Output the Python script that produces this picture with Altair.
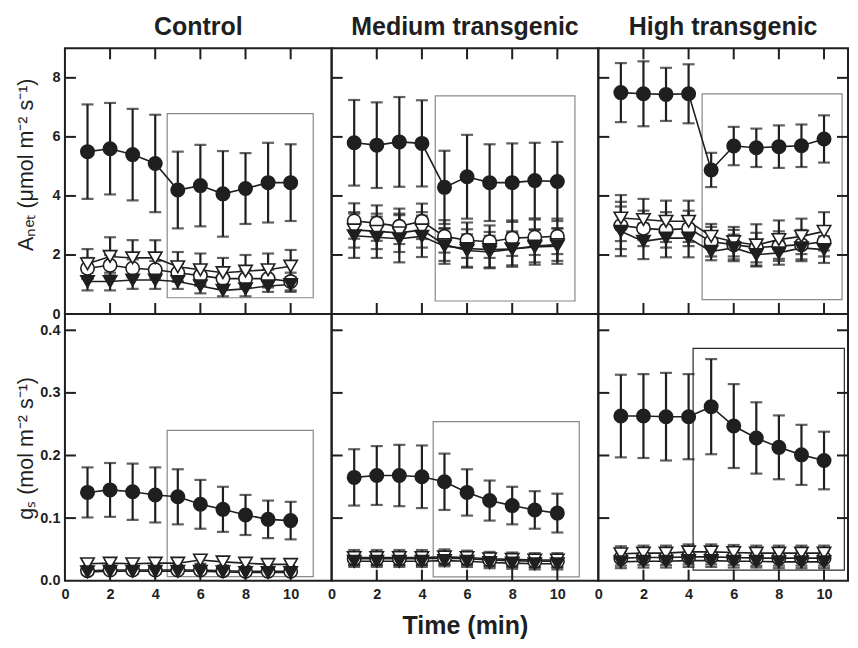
import altair as alt
import pandas as pd

time = [1, 2, 3, 4, 5, 6, 7, 8, 9, 10]

# ---------------- A_net (top row) ----------------
ctl_a_fc = [5.50, 5.60, 5.40, 5.10, 4.20, 4.35, 4.07, 4.25, 4.45, 4.45]
ctl_a_fc_err = [1.60, 1.55, 1.55, 1.65, 1.30, 1.38, 1.45, 1.20, 1.35, 1.30]
ctl_a_oc = [1.55, 1.65, 1.55, 1.50, 1.40, 1.30, 1.20, 1.20, 1.20, 1.10]
ctl_a_oc_err = [0.35, 0.35, 0.30, 0.30, 0.30, 0.30, 0.30, 0.30, 0.30, 0.30]
ctl_a_ot = [1.70, 1.95, 1.90, 1.90, 1.60, 1.50, 1.40, 1.45, 1.50, 1.62]
ctl_a_ot_err = [0.50, 0.65, 0.60, 0.60, 0.50, 0.55, 0.50, 0.55, 0.55, 0.55]
ctl_a_ft = [1.10, 1.10, 1.15, 1.15, 1.10, 0.95, 0.80, 0.85, 0.95, 1.00]
ctl_a_ft_err = [0.30, 0.30, 0.30, 0.30, 0.25, 0.25, 0.20, 0.25, 0.20, 0.25]

med_a_fc = [5.80, 5.72, 5.83, 5.78, 4.29, 4.65, 4.45, 4.45, 4.52, 4.49]
med_a_fc_err = [1.45, 1.45, 1.52, 1.46, 1.24, 1.42, 1.30, 1.33, 1.28, 1.34]
med_a_oc = [3.15, 3.08, 2.97, 3.14, 2.63, 2.50, 2.45, 2.57, 2.60, 2.63]
med_a_oc_err = [0.60, 0.60, 0.60, 0.60, 0.55, 0.60, 0.55, 0.60, 0.60, 0.60]
med_a_ot = [2.85, 2.80, 2.75, 2.85, 2.35, 2.15, 2.10, 2.20, 2.30, 2.35]
med_a_ot_err = [0.60, 0.60, 0.65, 0.60, 0.55, 0.55, 0.55, 0.55, 0.55, 0.55]
med_a_ft = [2.65, 2.60, 2.55, 2.63, 2.30, 2.22, 2.18, 2.20, 2.27, 2.30]
med_a_ft_err = [0.75, 0.70, 0.80, 0.70, 0.60, 0.65, 0.60, 0.60, 0.60, 0.60]

high_a_fc = [7.50, 7.46, 7.44, 7.46, 4.88, 5.69, 5.63, 5.67, 5.70, 5.93]
high_a_fc_err = [1.00, 1.10, 0.90, 1.00, 0.58, 0.65, 0.65, 0.72, 0.72, 0.80]
high_a_oc = [3.00, 2.90, 2.85, 2.90, 2.45, 2.35, 2.25, 2.30, 2.35, 2.45]
high_a_oc_err = [0.80, 0.60, 0.60, 0.60, 0.50, 0.50, 0.50, 0.50, 0.50, 0.50]
high_a_ot = [3.25, 3.20, 3.14, 3.14, 2.63, 2.45, 2.34, 2.52, 2.63, 2.80]
high_a_ot_err = [0.78, 0.70, 0.70, 0.70, 0.42, 0.50, 0.70, 0.65, 0.60, 0.65]
high_a_ft = [2.80, 2.46, 2.57, 2.57, 2.12, 2.24, 2.01, 2.07, 2.24, 2.18]
high_a_ft_err = [0.84, 0.60, 0.65, 0.65, 0.30, 0.45, 0.40, 0.40, 0.45, 0.45]

# ---------------- g_s (bottom row) ----------------
ctl_g_fc = [0.141, 0.145, 0.142, 0.137, 0.134, 0.122, 0.114, 0.105, 0.098, 0.096]
ctl_g_fc_err = [0.040, 0.043, 0.045, 0.044, 0.044, 0.039, 0.036, 0.032, 0.030, 0.030]
ctl_g_oc = [0.016, 0.017, 0.017, 0.017, 0.017, 0.017, 0.016, 0.015, 0.015, 0.015]
ctl_g_oc_err = [0.005, 0.005, 0.005, 0.005, 0.005, 0.005, 0.005, 0.005, 0.005, 0.005]
ctl_g_ot = [0.027, 0.028, 0.027, 0.028, 0.028, 0.033, 0.030, 0.028, 0.026, 0.026]
ctl_g_ot_err = [0.006, 0.006, 0.006, 0.006, 0.006, 0.006, 0.006, 0.006, 0.006, 0.006]
ctl_g_ft = [0.014, 0.015, 0.015, 0.015, 0.015, 0.015, 0.014, 0.013, 0.013, 0.013]
ctl_g_ft_err = [0.004, 0.004, 0.004, 0.004, 0.004, 0.004, 0.004, 0.004, 0.004, 0.004]

med_g_fc = [0.165, 0.168, 0.168, 0.166, 0.158, 0.141, 0.128, 0.120, 0.113, 0.108]
med_g_fc_err = [0.045, 0.047, 0.049, 0.050, 0.045, 0.037, 0.032, 0.030, 0.030, 0.031]
med_g_oc = [0.035, 0.035, 0.035, 0.035, 0.036, 0.035, 0.033, 0.032, 0.031, 0.031]
med_g_oc_err = [0.010, 0.010, 0.010, 0.010, 0.010, 0.010, 0.010, 0.010, 0.010, 0.010]
med_g_ot = [0.037, 0.037, 0.037, 0.037, 0.038, 0.037, 0.035, 0.034, 0.033, 0.033]
med_g_ot_err = [0.012, 0.012, 0.012, 0.012, 0.012, 0.011, 0.011, 0.011, 0.011, 0.011]
med_g_ft = [0.031, 0.031, 0.031, 0.031, 0.032, 0.031, 0.029, 0.028, 0.027, 0.027]
med_g_ft_err = [0.009, 0.009, 0.009, 0.009, 0.009, 0.009, 0.009, 0.009, 0.009, 0.009]

high_g_fc = [0.263, 0.263, 0.262, 0.262, 0.278, 0.247, 0.228, 0.213, 0.201, 0.192]
high_g_fc_err = [0.066, 0.067, 0.070, 0.068, 0.076, 0.067, 0.057, 0.051, 0.048, 0.046]
high_g_oc = [0.036, 0.037, 0.037, 0.038, 0.038, 0.037, 0.036, 0.036, 0.036, 0.036]
high_g_oc_err = [0.012, 0.012, 0.012, 0.012, 0.012, 0.012, 0.012, 0.012, 0.012, 0.012]
high_g_ot = [0.043, 0.044, 0.044, 0.046, 0.046, 0.045, 0.044, 0.044, 0.044, 0.044]
high_g_ot_err = [0.012, 0.012, 0.012, 0.012, 0.012, 0.012, 0.012, 0.012, 0.012, 0.012]
high_g_ft = [0.030, 0.031, 0.031, 0.032, 0.032, 0.031, 0.031, 0.030, 0.030, 0.030]
high_g_ft_err = [0.010, 0.010, 0.010, 0.010, 0.010, 0.010, 0.010, 0.010, 0.010, 0.010]

# highlighted period boxes: [x1, x2, y1, y2]
ctl_a_box = [4.53, 11.0, 0.55, 6.79]
med_a_box = [4.59, 10.78, 0.44, 7.39]
high_a_box = [4.60, 10.80, 0.49, 7.46]
ctl_g_box = [4.53, 11.0, 0.0064, 0.240]
med_g_box = [4.50, 10.97, 0.006, 0.254]
high_g_box = [4.20, 10.90, 0.017, 0.371]

col_titles = ["Control", "Medium transgenic", "High transgenic"]
x_tick_vals = [0, 2, 4, 6, 8, 10]
a_tick_vals = [0, 2, 4, 6, 8]
g_tick_vals = [0.0, 0.1, 0.2, 0.3, 0.4]
a_domain = [0, 9]
g_domain = [0, 0.426]

SER = ["oc", "ot", "ft", "fc"]
SHAPES = ["circle", "triangle-down", "triangle-down", "circle"]
INK = "#1f1f1f"
FILLS = ["white", "white", INK, INK]
PX_PER_MIN = 22.6
FONT = "Liberation Sans"


def series_df(d):
    rows = []
    for s in SER:
        m, e = d[s]
        for t, mv, ev in zip(time, m, e):
            rows.append({"time": t, "series": s, "mean": mv, "lo": mv - ev, "hi": mv + ev})
    return pd.DataFrame(rows)


def panel(d, box, ydom, yvals, yfmt, col, row, width, height, title=None, ytitle=None,
          ytitle_y=None, xtitle=None, right_ticks=False):
    df = series_df(d)
    xmax = width / PX_PER_MIN
    xs = alt.Scale(domain=[0, xmax], nice=False, zero=False)
    ys = alt.Scale(domain=ydom, nice=False, zero=False)
    if row == 1:
        xaxis = alt.Axis(values=x_tick_vals, format="d", ticks=False, domain=False, grid=False,
                         labelFlush=False, labelOverlap=False, labelPadding=7,
                         title=xtitle, titleFontSize=25, titleFontWeight="bold", titlePadding=12)
    else:
        xaxis = None
    if col == 0:
        yaxis = alt.Axis(values=yvals, format=yfmt, ticks=False, domain=False, grid=False,
                         labelFlush=False, labelOverlap=False, labelPadding=5,
                         title=ytitle, titleFontSize=21.5, titleFontWeight="normal",
                         titleX=-27, titleY=ytitle_y)
    else:
        yaxis = None

    X = lambda f: alt.X(f, scale=xs, axis=xaxis)
    Y = lambda f: alt.Y(f, scale=ys, axis=yaxis)

    bdf = pd.DataFrame([{"x1": box[0], "x2": box[1], "y1": box[2], "y2": box[3]}])
    box_color = "#2a2a2a" if (row == 1 and col == 2) else "#8a8a8a"
    box_layer = alt.Chart(bdf).mark_rect(filled=False, stroke=box_color, strokeWidth=1.2).encode(
        x=X("x1:Q"), x2="x2:Q", y=Y("y1:Q"), y2="y2:Q")

    base = alt.Chart(df)
    bars = base.mark_rule(color=INK, strokeWidth=2.2).encode(x=X("time:Q"), y=Y("lo:Q"), y2="hi:Q")
    caps = base.transform_fold(["lo", "hi"], as_=["k", "v"]).mark_tick(
        orient="horizontal", size=12, thickness=2.2, color=INK).encode(x=X("time:Q"), y=Y("v:Q"))
    lines = base.mark_line(color=INK, strokeWidth=1.6).encode(
        x=X("time:Q"), y=Y("mean:Q"), detail="series:N", order="time:Q")
    pts = base.mark_point(filled=True, size=180, stroke=INK, strokeWidth=1.6, opacity=1).encode(
        x=X("time:Q"), y=Y("mean:Q"),
        shape=alt.Shape("series:N", scale=alt.Scale(domain=SER, range=SHAPES), legend=None),
        fill=alt.Fill("series:N", scale=alt.Scale(domain=SER, range=FILLS), legend=None))

    tl = 11
    xt = pd.DataFrame({"v": x_tick_vals[1:]})
    yt = pd.DataFrame({"v": [v for v in yvals if v > 0]})
    layers = [box_layer, bars, caps, lines, pts]
    layers.append(alt.Chart(xt).mark_rule(color=INK, strokeWidth=2).encode(
        x=X("v:Q"), y=alt.value(height - tl), y2=alt.value(height)))
    if row == 0:
        layers.append(alt.Chart(xt).mark_rule(color=INK, strokeWidth=2).encode(
            x=X("v:Q"), y=alt.value(0), y2=alt.value(tl)))
    layers.append(alt.Chart(yt).mark_rule(color=INK, strokeWidth=2).encode(
        y=Y("v:Q"), x=alt.value(0), x2=alt.value(tl)))
    if right_ticks:
        layers.append(alt.Chart(yt).mark_rule(color=INK, strokeWidth=2).encode(
            y=Y("v:Q"), x=alt.value(width - tl), x2=alt.value(width)))

    props = {"width": width, "height": height}
    if title:
        props["title"] = alt.TitleParams(text=title, fontSize=25, fontWeight="bold", font=FONT,
                                         color=INK, anchor="middle", offset=7)
    return alt.layer(*layers).properties(**props)


A_T = "Aₙₑₜ (μmol m⁻² s⁻¹)"
G_T = "gₛ (mol m⁻² s⁻¹)"
W = [267, 267, 250]
H_TOP = 266
H_BOT = 267

panels = [
    panel({"fc": (ctl_a_fc, ctl_a_fc_err), "oc": (ctl_a_oc, ctl_a_oc_err), "ot": (ctl_a_ot, ctl_a_ot_err), "ft": (ctl_a_ft, ctl_a_ft_err)},
          ctl_a_box, a_domain, a_tick_vals, "d", 0, 0, W[0], H_TOP, title=col_titles[0], ytitle=A_T,
          ytitle_y=116),
    panel({"fc": (med_a_fc, med_a_fc_err), "oc": (med_a_oc, med_a_oc_err), "ot": (med_a_ot, med_a_ot_err), "ft": (med_a_ft, med_a_ft_err)},
          med_a_box, a_domain, a_tick_vals, "d", 1, 0, W[1], H_TOP, title=col_titles[1]),
    panel({"fc": (high_a_fc, high_a_fc_err), "oc": (high_a_oc, high_a_oc_err), "ot": (high_a_ot, high_a_ot_err), "ft": (high_a_ft, high_a_ft_err)},
          high_a_box, a_domain, a_tick_vals, "d", 2, 0, W[2], H_TOP, title=col_titles[2], right_ticks=True),
    panel({"fc": (ctl_g_fc, ctl_g_fc_err), "oc": (ctl_g_oc, ctl_g_oc_err), "ot": (ctl_g_ot, ctl_g_ot_err), "ft": (ctl_g_ft, ctl_g_ft_err)},
          ctl_g_box, g_domain, g_tick_vals, ".1f", 0, 1, W[0], H_BOT, ytitle=G_T, ytitle_y=134),
    panel({"fc": (med_g_fc, med_g_fc_err), "oc": (med_g_oc, med_g_oc_err), "ot": (med_g_ot, med_g_ot_err), "ft": (med_g_ft, med_g_ft_err)},
          med_g_box, g_domain, g_tick_vals, ".1f", 1, 1, W[1], H_BOT, xtitle="Time (min)"),
    panel({"fc": (high_g_fc, high_g_fc_err), "oc": (high_g_oc, high_g_oc_err), "ot": (high_g_ot, high_g_ot_err), "ft": (high_g_ft, high_g_ft_err)},
          high_g_box, g_domain, g_tick_vals, ".1f", 2, 1, W[2], H_BOT, right_ticks=True),
]

chart = alt.concat(*panels, columns=3, spacing=0, bounds="flush").properties(
    padding={"left": 7, "top": 6, "right": 0, "bottom": 0}
).configure_view(stroke=INK, strokeWidth=2).configure_axis(
    labelFont=FONT, labelFontSize=14.5, labelFontWeight="bold", labelColor=INK,
    titleFont=FONT, titleColor=INK
).configure_title(font=FONT, color=INK)

chart.save("out.html", embed_options={"renderer": "svg", "actions": False})
